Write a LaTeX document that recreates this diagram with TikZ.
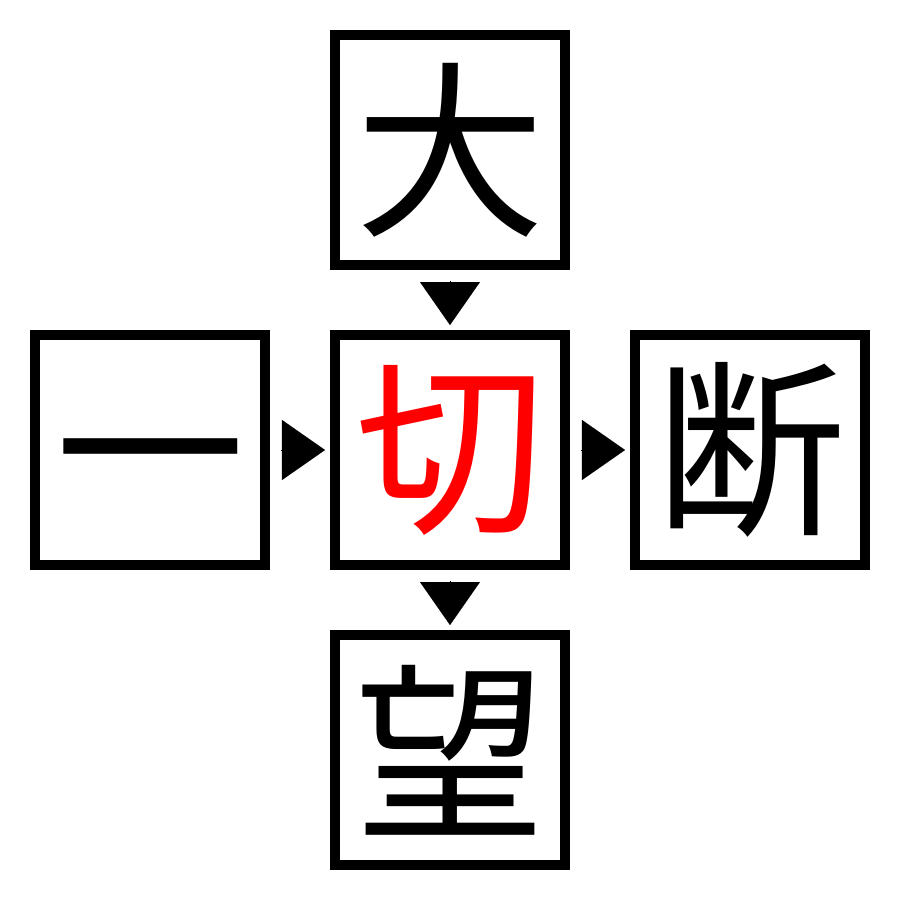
\documentclass[tikz,border=0pt]{standalone}
\usepackage{fontspec}
\newfontfamily\cjk{Noto Sans CJK JP}
\usepackage{tikz}
\usetikzlibrary{positioning,arrows.meta}
\tikzset{charbox/.style={draw,rectangle,line width=1mm,minimum size=2.3cm,inner sep=0,outer sep=0,
        font=\cjk\fontsize{54}{54}\selectfont},
    pointer/.style={line width=0.01pt,-{Triangle[length=4.3mm,width=6mm]},shorten <=1.6mm,shorten >=1mm}
}
\begin{document}
\begin{tikzpicture}[node distance=0.7cm]

\useasboundingbox (-4.5,-4.5) rectangle (4.5,4.5);

% the five characters

\node (boxQie) at (0,0) [charbox,text=red] {切};
\node (boxDa) [charbox,above=of boxQie] {大};
\node (boxYi) [charbox,left=of boxQie] {\raisebox{-3mm}[\height][\depth]{一}};
\node (boxDuan) [charbox,right=of boxQie] {断};
\node (boxWang) [charbox,below=of boxQie] {望};

% pointers

\draw [pointer] (boxDa) -- (boxQie);
\draw [pointer] (boxYi) -- (boxQie);
\draw [pointer] (boxQie) -- (boxDuan);
\draw [pointer] (boxQie) -- (boxWang);

\end{tikzpicture}
\end{document}
